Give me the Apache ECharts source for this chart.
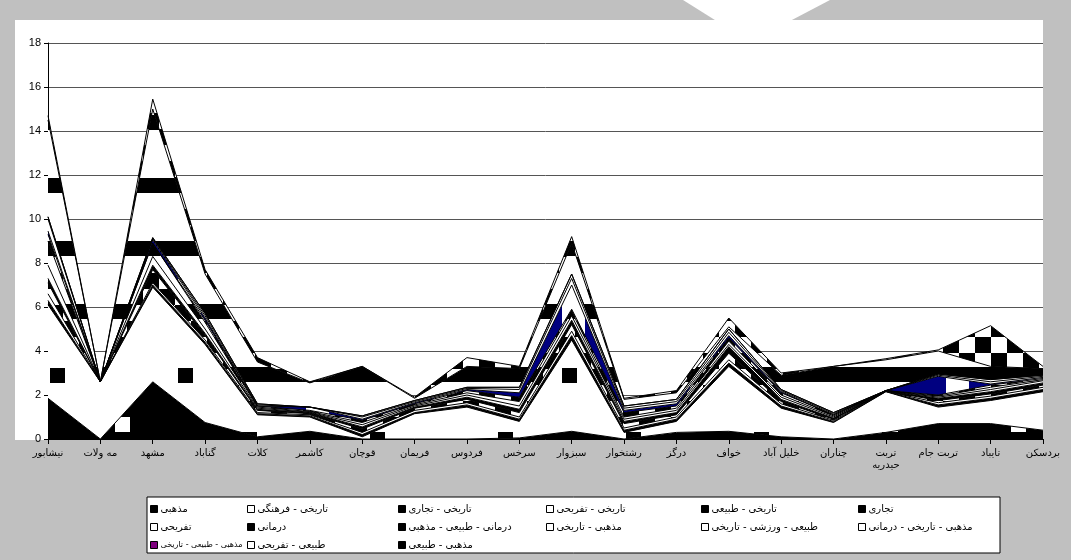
<!DOCTYPE html>
<html><head><meta charset="utf-8">
<script src="https://cdn.jsdelivr.net/npm/echarts@6/dist/echarts.min.js"></script>
<style>html,body{margin:0;padding:0;background:#c0c0c0}#c{width:1071px;height:560px}</style>
</head><body><div id="c"></div><script>
const categories = ['نیشابور','مه ولات','مشهد','گناباد','کلات','کاشمر','قوچان','فریمان','فردوس','سرخس','سبزوار','رشتخوار','درگز','خواف','خلیل آباد','چناران','تربت حیدریه','تربت جام','تایباد','بردسکن'];
const yTicks = [0,2,4,6,8,10,12,14,16,18];
const seriesNames = ['مذهبی','تاریخی - فرهنگی','تاریخی - تجاری','تاریخی - تفریحی','تاریخی - طبیعی','تجاری','تفریحی','درمانی','درمانی - طبیعی - مذهبی','مذهبی - تاریخی','طبیعی - ورزشی - تاریخی','مذهبی - تاریخی - درمانی','مذهبی - طبیعی - تاریخی','طبیعی - تفریحی','مذهبی - طبیعی'];
const s01 = [1.85,0,2.6,0.75,0.1,0.35,0,0,0,0.05,0.35,0,0.3,0.35,0.1,0,0.3,0.7,0.7,0.4];
const s02 = [4.25,2.6,4.3,3.55,1.0,0.65,0.1,1.15,1.45,0.75,4.15,0.3,0.5,2.95,1.3,0.75,1.85,0.75,1.05,1.75];
const s03 = [0.2,0,0.1,0.1,0.05,0.05,0.1,0.05,0.1,0.1,0.2,0.1,0.1,0.15,0.1,0.05,0.01,0.1,0.1,0.1];
const s04 = [0.3,0,0.1,0.1,0.05,0.05,0.1,0.1,0.1,0.1,0.2,0.1,0.1,0.15,0.1,0.05,0.01,0.1,0.1,0.1];
const s05 = [0.5,0,0.6,0.2,0.1,0.05,0.15,0.1,0.15,0.2,0.3,0.2,0.1,0.3,0.1,0.05,0.01,0.1,0.1,0.1];
const s06 = [0.2,0,0.2,0.1,0.05,0.05,0.1,0.05,0.1,0.15,0.2,0.1,0.1,0.3,0.1,0.05,0.01,0.1,0.1,0.1];
const s07 = [0.6,0,0.4,0.2,0.05,0.02,0.1,0.05,0.1,0.15,0.2,0.1,0.1,0.1,0.1,0.05,0.01,0.05,0.1,0.1];
const s08 = [1.1,0,0.6,0.3,0.05,0.03,0.1,0.05,0.1,0.2,0.2,0.1,0.1,0.15,0.1,0.05,0,0.05,0.1,0.05];
const s09 = [0.3,0,0,0.1,0.05,0.05,0.1,0.05,0.1,0.2,0.1,0.2,0.1,0.15,0.1,0.05,0,0.05,0.1,0.05];
const s10 = [0.15,0,0.15,0.1,0,0.15,0.05,0.05,0.05,0.2,1.1,0.1,0.1,0.1,0.05,0,0,0.85,0.05,0.05];
const s11 = [0.55,0,0.05,0.1,0.05,0,0.1,0.05,0.05,0.15,0.3,0.1,0.1,0.15,0.05,0.05,0,0.05,0.1,0.05];
const s12 = [0.1,0,0.05,0.1,0.05,0,0.05,0.05,0.05,0.1,0.2,0.1,0.1,0.15,0.05,0.05,0,0.05,0.1,0.05];
const s13 = [0,0,0,0,0,0,0,0,0,0,0,0,0,0,0,0,0,0,0,0];
const s14 = [4.4,0,5.85,1.8,1.9,1.1,2.25,0.1,0.95,0.85,1.4,0.3,0.3,0.1,0.65,2.1,1.4,1.05,0.6,0.3];
const s15 = [0.2,0,0.45,0.2,0.2,0.05,0,0.05,0.4,0.1,0.3,0.05,0.1,0.4,0.1,0,0.05,0.05,1.85,0.1];
const seriesValues = [s01,s02,s03,s04,s05,s06,s07,s08,s09,s10,s11,s12,s13,s14,s15];

function pat(w,h,draw){const c=document.createElement('canvas');c.width=w;c.height=h;const g=c.getContext('2d');draw(g,w,h);return {image:c,repeat:'repeat'};}
const black='#000', white='#fff', navy='#000080';
const pSolidBlackDots = pat(128,128,(g)=>{g.fillStyle=black;g.fillRect(0,0,128,128);g.fillStyle=white;g.fillRect(115,33,15,15);g.fillRect(-13,33,15,15);});
const pWhiteDots = pat(128,128,(g)=>{g.fillStyle=white;g.fillRect(0,0,128,128);g.fillStyle=black;g.fillRect(50,112,15,15);g.fillRect(50,-16,15,15);g.fillRect(114,48,15,15);g.fillRect(-14,48,15,15);});
const pStripes = pat(8,63,(g)=>{g.fillStyle=white;g.fillRect(0,0,8,63);g.fillStyle=black;g.fillRect(0,52,8,11);g.fillRect(0,0,8,4);});
const pChecker = pat(32,32,(g)=>{g.fillStyle=white;g.fillRect(0,0,32,32);g.fillStyle=black;for(let a=-1;a<=1;a++)for(let b=-1;b<=1;b++){g.fillRect(15+32*a,17+32*b,16,16);g.fillRect(31+32*a,33+32*b,16,16);}});
const pNavy = pat(128,8,(g)=>{g.fillStyle=navy;g.fillRect(0,0,128,8);g.fillStyle=white;g.fillRect(50,0,23,8);});
const fills = [pSolidBlackDots,pWhiteDots,black,white,pChecker,black,white,pStripes,pChecker,pNavy,white,white,'#800080',pStripes,pChecker];
const legendColors = [black,white,black,white,black,black,white,black,black,white,white,white,'#800080',white,black];
const colX = [150,247,398,546,701,858];
const rowY = [504,522,540];

const chart = echarts.init(document.getElementById('c'),null,{renderer:'canvas'});
const series = seriesNames.map((n,i)=>({
  name:n,type:'line',stack:'total',data:seriesValues[i],symbol:'none',showSymbol:false,
  lineStyle:{color:black,width:1},areaStyle:{color:fills[i],opacity:1},itemStyle:{color:legendColors[i]},
  emphasis:{disabled:true},silent:true
}));
const legends = seriesNames.map((n,i)=>({
  data:[{name:n,icon:'rect',itemStyle:{color:legendColors[i],borderColor:black,borderWidth:1},
    textStyle:{fontSize:(i===12?8:10)}}],
  left:colX[i%6],top:rowY[Math.floor(i/6)]+(i===12?1:0),itemWidth:7,itemHeight:7,padding:0,selectedMode:false,
  lineStyle:{opacity:0,width:0},
  textStyle:{fontSize:10,fontFamily:'DejaVu Sans',color:black,padding:[0,0,0,-2]}
}));
chart.setOption({
  animation:false,
  backgroundColor:'#c0c0c0',
  graphic:[
    {type:'rect',z:-10,shape:{x:15,y:20,width:1028,height:420},style:{fill:white}},
    {type:'polygon',z:-10,shape:{points:[[683,0],[830,0],[750,42]]},style:{fill:white}},
    {type:'rect',z:-10,shape:{x:147,y:497,width:853,height:56},style:{fill:white,stroke:black,lineWidth:1}}
  ],
  grid:{left:48,right:28,top:43,bottom:121},
  legend:legends,
  xAxis:{type:'category',data:categories,boundaryGap:false,
    axisLine:{lineStyle:{color:black,width:1}},
    axisTick:{show:true,length:5,lineStyle:{color:black},interval:0},
    axisLabel:{interval:0,color:black,fontSize:10,fontFamily:'DejaVu Sans',margin:8,lineHeight:12,
      formatter:v=>v==='تربت حیدریه'?'تربت\nحیدریه':v},
    splitLine:{show:false}},
  yAxis:{type:'value',min:0,max:18,interval:2,
    axisLine:{show:true,lineStyle:{color:black,width:1}},
    axisTick:{show:true,length:4,lineStyle:{color:black}},
    axisLabel:{color:black,fontSize:11,fontFamily:'Liberation Sans',margin:7,
      formatter:v=>yTicks.includes(v)?String(v):''},
    splitLine:{show:true,lineStyle:{color:'#555',width:1}}},
  series:series
});
</script></body></html>
